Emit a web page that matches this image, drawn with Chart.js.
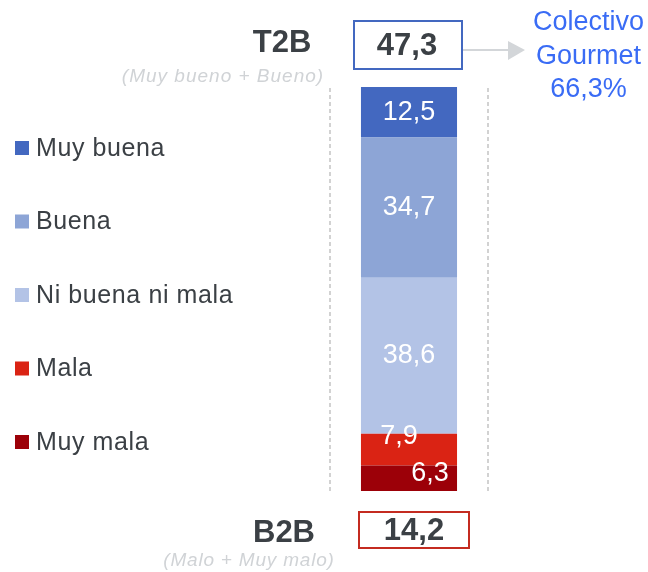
<!DOCTYPE html>
<html>
<head>
<meta charset="utf-8">
<script src="https://cdn.jsdelivr.net/npm/chart.js@4.4.1/dist/chart.umd.min.js"></script>
<style>
  html, body { margin: 0; padding: 0; background: #ffffff; font-family: "Liberation Sans", Arial, sans-serif; }
  #wrap { width: 648px; height: 572px; position: relative; }
  .pre { position: absolute; left: -1000px; top: 0; font-family: "Liberation Sans"; }
</style>
</head>
<body>
<span class="pre">a</span><span class="pre" style="font-weight:bold">a</span><span class="pre" style="font-style:italic">a</span>
<div id="wrap"><canvas id="c" width="648" height="572"></canvas></div>
<script>
// ---- Data ----
const categories = ['Total'];
const seriesLabels = ['Muy buena', 'Buena', 'Ni buena ni mala', 'Mala', 'Muy mala'];
const seriesValues = [12.5, 34.7, 38.6, 7.9, 6.3];
const seriesColors = ['#4368C0', '#8DA5D6', '#B3C3E6', '#DA2314', '#9C0008'];
const t2bLabel = 'T2B';
const t2bSub = '(Muy bueno + Bueno)';
const t2bValue = 47.3;
const b2bLabel = 'B2B';
const b2bSub = '(Malo + Muy malo)';
const b2bValue = 14.2;
const benchmarkLines = ['Colectivo', 'Gourmet'];
const benchmarkValue = 66.3;

const fmt = v => v.toFixed(1).replace('.', ',');
const FONT = '"Liberation Sans", Arial, sans-serif';
const DARK = '#3b4045';

const datasets = seriesLabels.map((lab, i) => ({
  label: lab,
  data: [seriesValues[i]],
  backgroundColor: seriesColors[i],
  borderWidth: 0,
  categoryPercentage: 1,
  barPercentage: 0.608
})).reverse();

const labelNudge = { 'Mala': [-10, -13], 'Muy mala': [21, -5] };

const decorPlugin = {
  id: 'decor',
  beforeDatasetsDraw(chart) {
    const { ctx, chartArea: a } = chart;
    ctx.save();
    ctx.strokeStyle = '#c4c4c4';
    ctx.lineWidth = 1.5;
    ctx.setLineDash([4, 3]);
    [a.left, a.right].forEach(x => {
      ctx.beginPath();
      ctx.moveTo(x, a.top + 1);
      ctx.lineTo(x, a.bottom);
      ctx.stroke();
    });
    ctx.restore();
  },
  afterDatasetsDraw(chart) {
    const { ctx } = chart;
    ctx.save();
    ctx.fillStyle = '#ffffff';
    ctx.font = '27px ' + FONT;
    ctx.textAlign = 'center';
    ctx.textBaseline = 'middle';
    chart.data.datasets.forEach((ds, di) => {
      const el = chart.getDatasetMeta(di).data[0];
      const mid = (el.y + el.base) / 2;
      const n = labelNudge[ds.label] || [0, 0];
      ctx.fillText(fmt(ds.data[0]), el.x + n[0], mid + n[1]);
    });

    ctx.textAlign = 'left';
    ctx.font = '25px ' + FONT;
    ctx.letterSpacing = '0.6px';
    seriesLabels.forEach((lab, i) => {
      const y = 148 + i * 73.5;
      ctx.fillStyle = seriesColors[i];
      ctx.fillRect(15, y - 7, 14, 14);
      ctx.fillStyle = DARK;
      ctx.fillText(lab, 36, y + 1);
    });
    ctx.letterSpacing = '0px';

    const meta = chart.getDatasetMeta(0).data[0];
    const cx = meta.x;

    ctx.textAlign = 'center';
    ctx.fillStyle = DARK;
    ctx.font = 'bold 31px ' + FONT;
    ctx.fillText(t2bLabel, 282, 43);
    ctx.font = 'italic 19px ' + FONT;
    ctx.letterSpacing = '1px';
    ctx.fillStyle = '#d0d3d6';
    ctx.fillText(t2bSub, 223, 77);
    ctx.letterSpacing = '0px';

    ctx.strokeStyle = '#4368C0';
    ctx.lineWidth = 2;
    ctx.strokeRect(cx - 55, 21, 108, 48);
    ctx.fillStyle = DARK;
    ctx.font = 'bold 31px ' + FONT;
    ctx.fillText(fmt(t2bValue), cx - 2, 46);

    ctx.strokeStyle = '#d3d6d9';
    ctx.lineWidth = 2;
    ctx.beginPath();
    ctx.moveTo(cx + 54, 50);
    ctx.lineTo(508, 50);
    ctx.stroke();
    ctx.fillStyle = '#d3d6d9';
    ctx.beginPath();
    ctx.moveTo(508, 41);
    ctx.lineTo(525, 50);
    ctx.lineTo(508, 60);
    ctx.closePath();
    ctx.fill();

    ctx.fillStyle = '#3a6cf5';
    ctx.font = '27px ' + FONT;
    ctx.fillText(benchmarkLines[0], 588.5, 23);
    ctx.fillText(benchmarkLines[1], 588.5, 57);
    ctx.fillText(fmt(benchmarkValue) + '%', 588.5, 90);

    ctx.fillStyle = DARK;
    ctx.font = 'bold 31px ' + FONT;
    ctx.fillText(b2bLabel, 284, 533);
    ctx.font = 'italic 19px ' + FONT;
    ctx.letterSpacing = '0.8px';
    ctx.fillStyle = '#d0d3d6';
    ctx.fillText(b2bSub, 249, 561);
    ctx.letterSpacing = '0px';

    ctx.strokeStyle = '#C42B20';
    ctx.lineWidth = 2;
    ctx.strokeRect(cx - 50, 512, 110, 36);
    ctx.fillStyle = DARK;
    ctx.font = 'bold 31px ' + FONT;
    ctx.fillText(fmt(b2bValue), cx + 5, 531);
    ctx.restore();
  }
};

function draw() {
  new Chart(document.getElementById('c'), {
    type: 'bar',
    data: { labels: categories, datasets },
    options: {
      responsive: false,
      animation: false,
      events: [],
      layout: { padding: { left: 330, right: 160, top: 87, bottom: 81 } },
      plugins: { legend: { display: false }, tooltip: { enabled: false } },
      scales: {
        x: { stacked: true, display: false },
        y: { stacked: true, display: false, min: 0, max: 100 }
      }
    },
    plugins: [decorPlugin]
  });
}

Promise.all([
  document.fonts.load('25px "Liberation Sans"'),
  document.fonts.load('bold 25px "Liberation Sans"'),
  document.fonts.load('italic 25px "Liberation Sans"')
]).then(draw, draw);
</script>
</body>
</html>
